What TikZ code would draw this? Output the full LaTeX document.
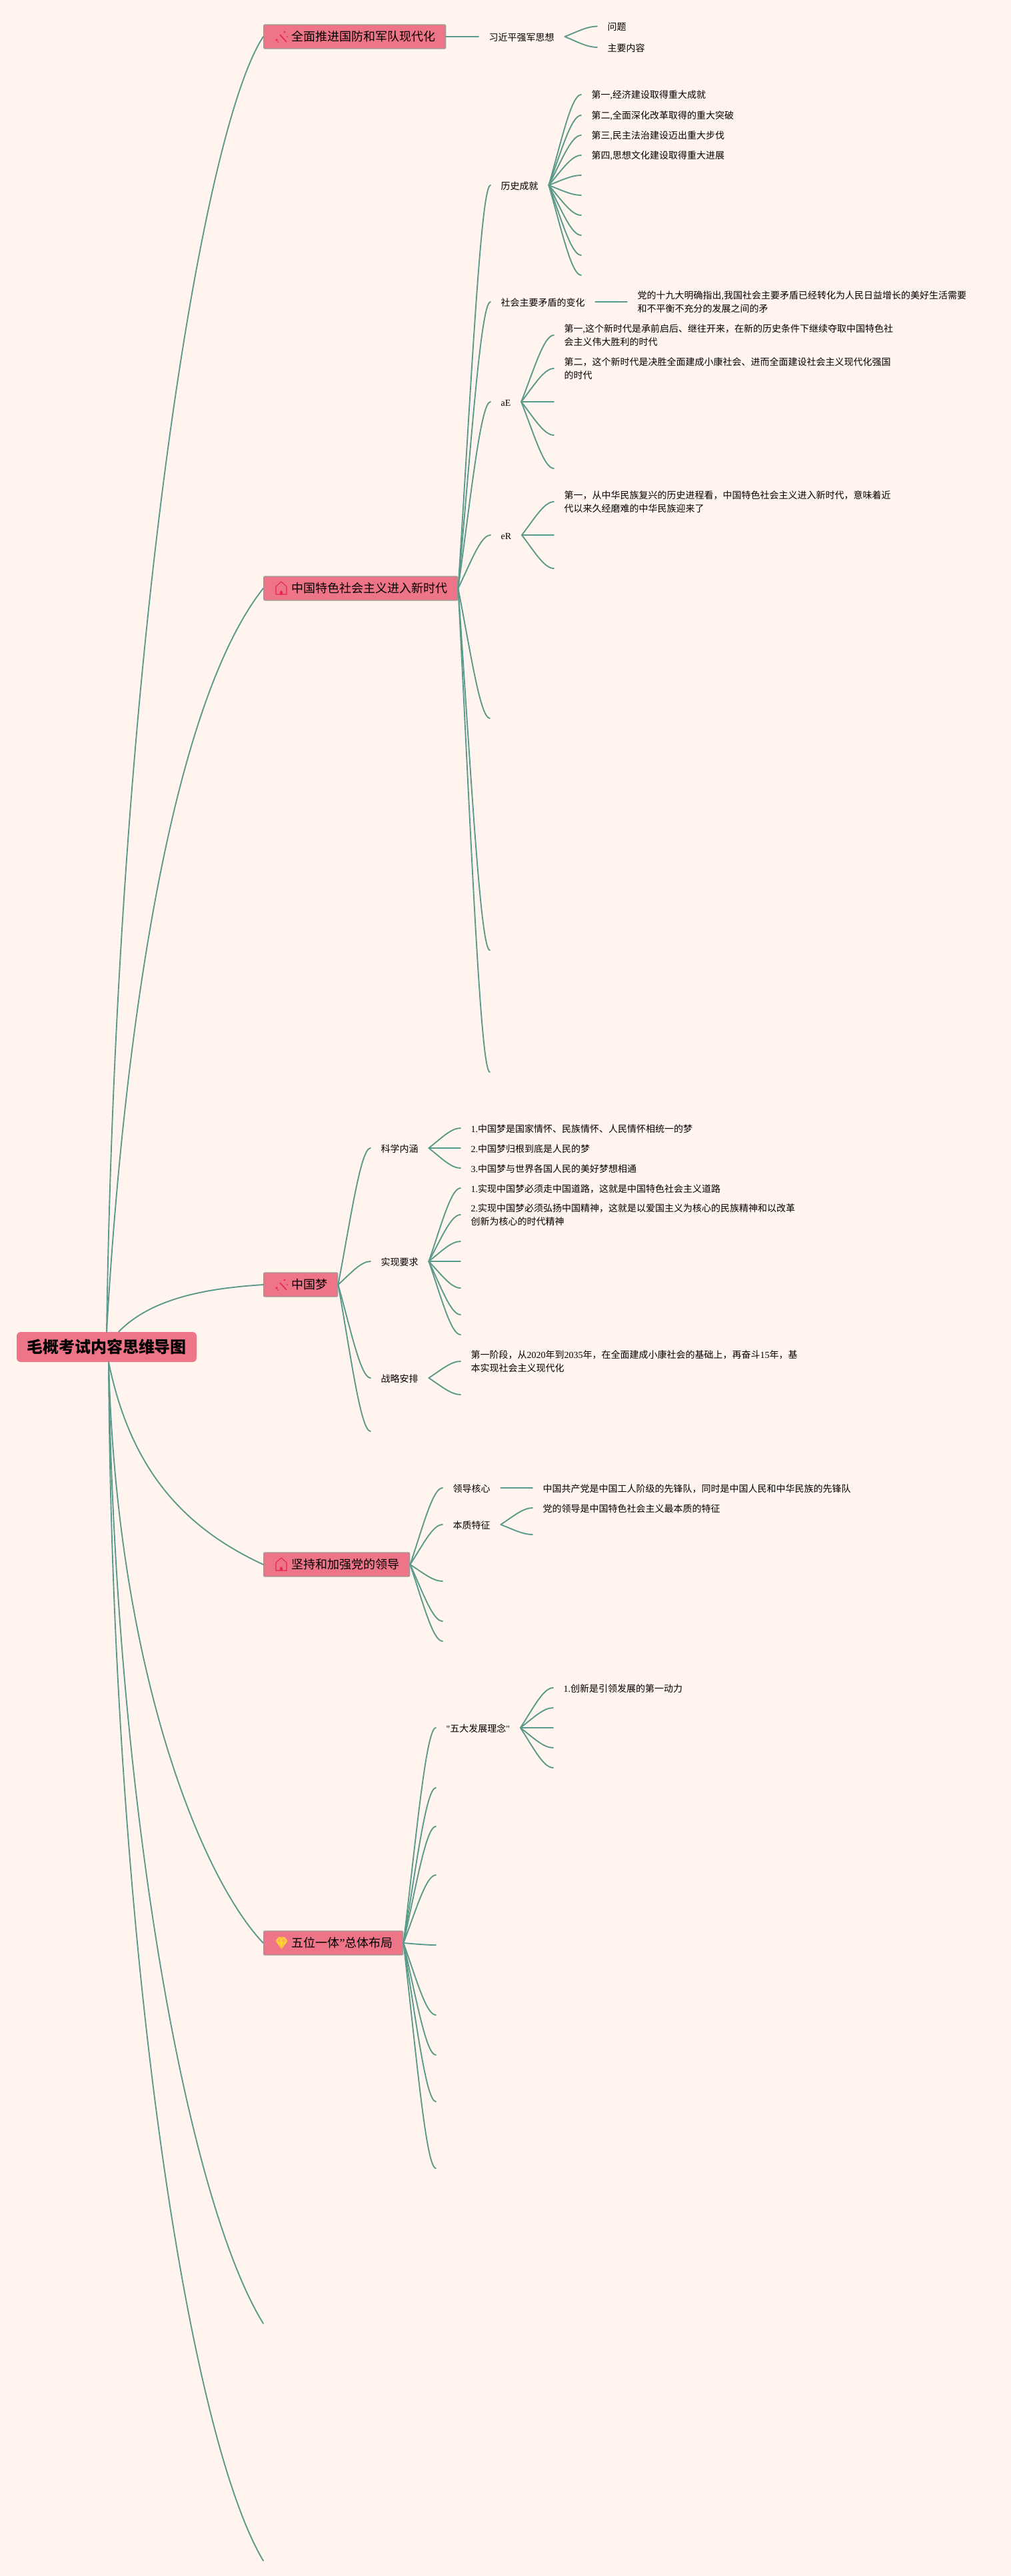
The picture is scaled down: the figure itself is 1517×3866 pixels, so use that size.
\documentclass[tikz,border=0pt]{standalone}
\usepackage{fontspec}
\setmainfont{Noto Sans CJK SC}
\newfontfamily\latinfont{Liberation Serif}
\newcommand{\lat}[1]{{\latinfont #1}}
\usetikzlibrary{calc}
\definecolor{pagebg}{HTML}{FFF5EE}
\definecolor{boxfill}{HTML}{EE7587}
\definecolor{boxline}{HTML}{9C9C96}
\definecolor{linkcol}{HTML}{5B9A8B}
\definecolor{iconred}{HTML}{E8264F}
\definecolor{iconyellow}{HTML}{FFD530}
\tikzset{
  link/.style={draw=linkcol,line width=1.9pt,line cap=round},
  lbl/.style={anchor=west,inner xsep=15.5pt,inner ysep=0pt,align=left,text=black,font=\fontsize{14}{20}\selectfont,execute at begin node={\rule{0pt}{14pt}}},
  topic/.style={anchor=west,fill=boxfill,draw=boxline,line width=1.4pt,rounded corners=2pt,inner xsep=0pt,inner ysep=0pt,minimum height=36pt,text=black,font=\fontsize{18}{22}\selectfont},
  rootbox/.style={fill=boxfill,rounded corners=6pt,inner sep=0pt,minimum width=270pt,minimum height=45pt,text=black,font=\fontsize{24}{28}\selectfont\bfseries},
}
% connector from one named point to another
\newcommand{\conn}[2]{\draw[link] let \p1=(#1),\p2=(#2) in (\p1) .. controls ({\x1+.4*(\x2-\x1)},{\y1+.5*(\y2-\y1)}) and ({\x1+.7*(\x2-\x1)},\y2) .. (\p2);}
\newcommand{\topictext}[1]{\hspace*{42pt}#1\hspace*{15pt}}
\newcommand{\iconwand}[1]{\begin{scope}[shift={(#1)},iconred]
  \draw[line width=1.6pt] (25,-3) -- (35,8);
  \fill (20,5) circle (1.8pt);
  \fill (32,-7) circle (1.5pt);
  \fill (36,0) circle (1.2pt);
  \fill (22,8) circle (1pt);
  \end{scope}}
\newcommand{\iconhouse}[1]{\begin{scope}[shift={(#1)},iconred]
  \draw[line width=1.1pt,line join=round] (19,9) -- (19,-3) -- (27,-10) -- (35,-3) -- (35,9) -- cycle;
  \fill (25,9) -- (25,5) -- (27,3) -- (29,5) -- (29,9) -- cycle;
  \end{scope}}
\newcommand{\icondiamond}[1]{\begin{scope}[shift={(#1)}]
  \fill[iconyellow,line join=round] (23,-9) -- (32,-9) -- (36.5,-3) -- (27.5,9) -- (18.5,-3) -- cycle;
  \draw[boxfill!55!iconyellow,line width=.6pt] (18.5,-3) -- (36.5,-3) (23,-9) -- (23.5,-3) -- (27.5,9) -- (31.5,-3) -- (32,-9) (27.5,-9) -- (23.5,-3) (27.5,-9) -- (31.5,-3);
  \end{scope}}
\begin{document}
\begin{tikzpicture}[x=1pt,y=-1pt]
\useasboundingbox[fill=pagebg] (0,0) rectangle (1517,3866);
% root and main topics
\node[rootbox] (root) at (160,2021.5) {毛概考试内容思维导图};
\node[topic] (t1) at (395,55) {\topictext{全面推进国防和军队现代化}};
\node[topic] (t2) at (395,883) {\topictext{中国特色社会主义进入新时代}};
\node[topic] (t3) at (395,1928) {\topictext{中国梦}};
\node[topic] (t4) at (395,2348) {\topictext{坚持和加强党的领导}};
\node[topic] (t5) at (395,2916) {\topictext{五位一体\lat{”}总体布局}};
\coordinate (t6) at (395,3487);
\coordinate (t7) at (395,3843);
\iconwand{t1.west}
\iconhouse{t2.west}
\iconwand{t3.west}
\iconhouse{t4.west}
\icondiamond{t5.west}
% root connectors
\draw[link] (root.north) .. controls (175,1000) and (300,200) .. (t1.west);
\draw[link] (root.north) .. controls (185,1560) and (255,1060) .. (t2.west);
\draw[link] ($(root.north)+(18,0)$) .. controls (230,1945) and (320,1933) .. (t3.west);
\draw[link] ($(root.south)+(3,0)$) .. controls (195,2200) and (270,2290) .. (t4.west);
\draw[link] ($(root.south)+(3,0)$) .. controls (175,2500) and (300,2816) .. (t5.west);
\draw[link] ($(root.south)+(3,0)$) .. controls (172,2700) and (280,3300) .. (t6);
\draw[link] ($(root.south)+(3,0)$) .. controls (168,2900) and (280,3650) .. (t7);

% topic 1
\node[lbl] (a1) at (718,55) {习近平强军思想};
\node[lbl] (a1x) at (896,39.5) {问题};
\node[lbl] (a1y) at (896,71) {主要内容};
\draw[link] (t1.east) -- (a1.west);
\conn{a1.east}{a1x.west}
\conn{a1.east}{a1y.west}

% topic 2
\node[lbl] (b1) at (736,278) {历史成就};
\node[lbl] (b2) at (736,453) {社会主要矛盾的变化};
\node[lbl] (b3) at (736,603) {\lat{aE}};
\node[lbl] (b4) at (736,803) {\lat{eR}};
\coordinate (b5) at (735,1078);
\coordinate (b6) at (735,1426);
\coordinate (b7) at (735,1609);
\foreach \kid in {b1,b2,b3,b4} {\conn{t2.east}{\kid.west}}
\foreach \kid in {b5,b6,b7} {\conn{t2.east}{\kid}}

\node[lbl] (b11) at (872,142) {第一\lat{,}经济建设取得重大成就};
\node[lbl] (b12) at (872,173) {第二\lat{,}全面深化改革取得的重大突破};
\node[lbl] (b13) at (872,203) {第三\lat{,}民主法治建设迈出重大步伐};
\node[lbl] (b14) at (872,233) {第四\lat{,}思想文化建设取得重大进展};
\coordinate (b15) at (872,263);
\coordinate (b16) at (872,293);
\coordinate (b17) at (872,323);
\coordinate (b18) at (872,353);
\coordinate (b19) at (872,383);
\coordinate (b110) at (872,413);
\foreach \kid in {b11,b12,b13,b14} {\conn{b1.east}{\kid.west}}
\foreach \kid in {b15,b16,b17,b18,b19,b110} {\conn{b1.east}{\kid}}

\node[lbl] (b21) at (941,453) {党的十九大明确指出\lat{,}我国社会主要矛盾已经转化为人民日益增长的美好生活需要\\和不平衡不充分的发展之间的矛};
\draw[link] (b2.east) -- (b21.west);

\node[lbl] (b31) at (831,503) {第一\lat{,}这个新时代是承前启后、继往开来，在新的历史条件下继续夺取中国特色社\\会主义伟大胜利的时代};
\node[lbl] (b32) at (831,553) {第二，这个新时代是决胜全面建成小康社会、进而全面建设社会主义现代化强国\\的时代};
\coordinate (b33) at (831,603);
\coordinate (b34) at (831,653);
\coordinate (b35) at (831,703);
\foreach \kid in {b31,b32} {\conn{b3.east}{\kid.west}}
\foreach \kid in {b33,b34,b35} {\conn{b3.east}{\kid}}

\node[lbl] (b41) at (831,753) {第一，从中华民族复兴的历史进程看，中国特色社会主义进入新时代，意味着近\\代以来久经磨难的中华民族迎来了};
\coordinate (b42) at (831,803);
\coordinate (b43) at (831,853);
\conn{b4.east}{b41.west}
\conn{b4.east}{b42}
\conn{b4.east}{b43}

% topic 3
\node[lbl] (c1) at (556,1723) {科学内涵};
\node[lbl] (c2) at (556,1893) {实现要求};
\node[lbl] (c3) at (556,2068) {战略安排};
\coordinate (c4) at (556,2148);
\foreach \kid in {c1,c2,c3} {\conn{t3.east}{\kid.west}}
\conn{t3.east}{c4}

\node[lbl] (c11) at (691,1693) {\lat{1.}中国梦是国家情怀、民族情怀、人民情怀相统一的梦};
\node[lbl] (c12) at (691,1723) {\lat{2.}中国梦归根到底是人民的梦};
\node[lbl] (c13) at (691,1753) {\lat{3.}中国梦与世界各国人民的美好梦想相通};
\foreach \kid in {c11,c12,c13} {\conn{c1.east}{\kid.west}}

\node[lbl] (c21) at (691,1783) {\lat{1.}实现中国梦必须走中国道路，这就是中国特色社会主义道路};
\node[lbl] (c22) at (691,1823) {\lat{2.}实现中国梦必须弘扬中国精神，这就是以爱国主义为核心的民族精神和以改革\\创新为核心的时代精神};
\coordinate (c23) at (691,1863);
\coordinate (c24) at (691,1893);
\coordinate (c25) at (691,1933);
\coordinate (c26) at (691,1973);
\coordinate (c27) at (691,2003);
\foreach \kid in {c21,c22} {\conn{c2.east}{\kid.west}}
\foreach \kid in {c23,c24,c25,c26,c27} {\conn{c2.east}{\kid}}

\node[lbl] (c31) at (691,2043) {第一阶段，从\lat{2020}年到\lat{2035}年，在全面建成小康社会的基础上，再奋斗\lat{15}年，基\\本实现社会主义现代化};
\coordinate (c32) at (691,2093);
\conn{c3.east}{c31.west}
\conn{c3.east}{c32}

% topic 4
\node[lbl] (d1) at (664,2233) {领导核心};
\node[lbl] (d2) at (664,2288) {本质特征};
\coordinate (d3) at (664,2373);
\coordinate (d4) at (664,2433);
\coordinate (d5) at (664,2463);
\foreach \kid in {d1,d2} {\conn{t4.east}{\kid.west}}
\foreach \kid in {d3,d4,d5} {\conn{t4.east}{\kid}}
\node[lbl] (d11) at (799,2233) {中国共产党是中国工人阶级的先锋队，同时是中国人民和中华民族的先锋队};
\draw[link] (d1.east) -- (d11.west);
\node[lbl] (d21) at (799,2263) {党的领导是中国特色社会主义最本质的特征};
\coordinate (d22) at (799,2303);
\conn{d2.east}{d21.west}
\conn{d2.east}{d22}

% topic 5
\node[lbl] (e1) at (654,2593) {\lat{"}五大发展理念\lat{"}};
\coordinate (e2) at (654,2683);
\coordinate (e3) at (654,2741);
\coordinate (e4) at (654,2814);
\coordinate (e5) at (654,2919);
\coordinate (e6) at (654,3024);
\coordinate (e7) at (654,3084);
\coordinate (e8) at (654,3154);
\coordinate (e9) at (654,3254);
\conn{t5.east}{e1.west}
\foreach \kid in {e2,e3,e4,e5,e6,e7,e8,e9} {\conn{t5.east}{\kid}}
\node[lbl] (e11) at (830,2533) {\lat{1.}创新是引领发展的第一动力};
\coordinate (e12) at (830,2563);
\coordinate (e13) at (830,2593);
\coordinate (e14) at (830,2623);
\coordinate (e15) at (830,2653);
\conn{e1.east}{e11.west}
\foreach \kid in {e12,e13,e14,e15} {\conn{e1.east}{\kid}}
\end{tikzpicture}
\end{document}
